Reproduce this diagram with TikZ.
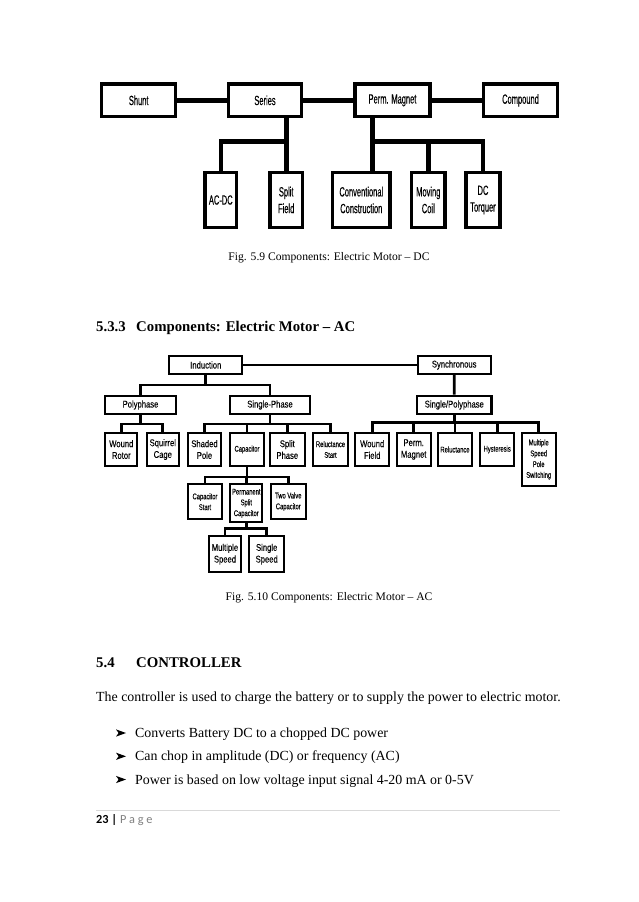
\documentclass[tikz,border=0pt]{standalone}
\usepackage{fontspec}
\setmainfont{Liberation Serif}
\newfontfamily\dcf[FakeStretch=0.56,FakeBold=0.2]{Liberation Sans}
\newfontfamily\acf[FakeStretch=0.78,FakeBold=0.1]{Liberation Sans}
\newfontfamily\acs[FakeStretch=0.7,FakeBold=0.1]{Liberation Sans}
\newfontfamily\calf{Carlito}
\usetikzlibrary{backgrounds}
\definecolor{sepgray}{RGB}{217,217,217}
\definecolor{pagegray}{RGB}{127,127,127}
\begin{document}
\begin{tikzpicture}[x=1pt,y=-1pt,
  dcbox/.style={draw, line width=3.3pt, fill=white, inner sep=0pt, align=center,
    minimum height=#1, font=\dcf\fontsize{13.4}{16.7}\selectfont},
  acbox/.style={draw, line width=2pt, fill=white, inner sep=0pt, align=center,
    minimum height=#1, font=\acf\fontsize{9.8}{11.7}\selectfont},
  acsmall/.style={font=\acs\fontsize{8.3}{10.8}\selectfont},
  dcline/.style={line width=4.5pt},
  acline/.style={line width=2.8pt},
  txt/.style={inner sep=0pt, anchor=base west},
  body/.style={txt, font=\fontsize{13.9}{16}\selectfont},
  capt/.style={inner sep=0pt, anchor=base, font=\fontsize{11.6}{14}\selectfont},
  head/.style={txt, font=\bfseries\fontsize{14.8}{18}\selectfont}
]
\useasboundingbox (0,0) rectangle (638,902);

% ---------------- DC diagram ----------------
\node[dcbox=32.7pt, minimum width=74pt]   (shunt)    at (138.7,100.3) {Shunt};
\node[dcbox=32.7pt, minimum width=73.4pt] (series)   at (265,100.3)   {Series};
\node[dcbox=32.7pt, minimum width=75.1pt] (perm)     at (392.5,100.3) {Perm. Magnet};
\node[dcbox=32.7pt, minimum width=74.3pt] (compound) at (520.5,100.3) {Compound};
\node[dcbox=54.7pt, minimum width=31.7pt] (acdc)     at (220.8,200)   {AC-DC};
\node[dcbox=54.7pt, minimum width=32.4pt] (split)    at (286.2,200)   {Split\\Field};
\node[dcbox=54.7pt, minimum width=57.4pt] (conv)     at (361.3,200)   {Conventional\\Construction};
\node[dcbox=54.7pt, minimum width=33.4pt] (moving)   at (428.3,200)   {Moving\\Coil};
\node[dcbox=54.7pt, minimum width=34.1pt] (torquer)  at (483,200)     {DC\\Torquer};
\coordinate (sj) at (286.7,141.7);
\coordinate (pj) at (372.7,141.7);

\begin{scope}[on background layer]
\draw[dcline] (shunt.east) -- (series.west);
\draw[dcline] (series.east) -- (perm.west);
\draw[dcline] (perm.east) -- (compound.west);
\draw[dcline] (series.south -| sj) -- (sj) -| (acdc.north);
\draw[dcline] (sj) -- (sj |- split.north);
\draw[dcline] (perm.south -| pj) -- (conv.north -| pj);
\draw[dcline] (pj) -| (torquer.north);
\draw[dcline] (moving.north) -- (moving.north |- pj);
\end{scope}

\node[capt] (cap1) at (329,260) {Fig. 5.9 Components: Electric Motor – DC};

% ---------------- headings ----------------
\node[head] (h1n) at (96,331) {5.3.3};
\node[head] (h1t) at (136,331) {Components: Electric Motor – AC};

% ---------------- AC diagram ----------------
\node[acbox=18pt, minimum width=73pt]   (ind)    at (205.8,365) {Induction};
\node[acbox=18pt, minimum width=73pt]   (sync)   at (454.2,365) {Synchronous};
\node[acbox=18pt, minimum width=70.4pt] (poly)   at (140.5,405) {Polyphase};
\node[acbox=18pt, minimum width=80pt]   (single) at (270,405)   {Single-Phase};
\node[acbox=18pt, minimum width=74.7pt, line width=2.6pt] (sp) at (454.3,405) {Single/Polyphase};

\node[acbox=33.6pt, minimum width=32pt]   (wr)  at (121.3,449.5) {Wound\\Rotor};
\node[acbox=33.6pt, minimum width=32.3pt] (sc)  at (162.8,449.5) {Squirrel\\Cage};
\node[acbox=33.6pt, minimum width=33.6pt] (shp) at (204.5,449.5) {Shaded\\Pole};
\node[acbox=33.6pt, minimum width=34pt, acsmall] (cap) at (247,449.5) {Capacitor};
\node[acbox=33.6pt, minimum width=34.7pt] (sph) at (287.3,449.5) {Split\\Phase};
\node[acbox=33.6pt, minimum width=35.6pt, acsmall] (rs) at (330.5,449.5) {Reluctance\\Start};
\node[acbox=33.6pt, minimum width=33.7pt] (wf)  at (372.2,449.5) {Wound\\Field};
\node[acbox=33.6pt, minimum width=34pt]   (pm)  at (413.7,449.5) {Perm.\\Magnet};
\node[acbox=33.6pt, minimum width=33.4pt, acsmall] (rel) at (455,449.5) {Reluctance};
\node[acbox=33.6pt, minimum width=33.7pt, acsmall] (hys) at (497.2,449.5) {Hysteresis};
\node[acbox=53.6pt, minimum width=34pt, acsmall] (msp) at (538.7,459.5) {Multiple\\Speed\\Pole\\Switching};

\node[acbox=34.7pt, minimum width=34.6pt, acsmall] (cs)  at (205,501.7)   {Capacitor\\Start};
\node[acbox=38pt,   minimum width=32pt,   acsmall] (psc) at (246.3,503.3) {Permanent\\Split\\Capacitor};
\node[acbox=34.7pt, minimum width=34.7pt, acsmall] (tv)  at (288.3,501.7) {Two Valve\\Capacitor};

\node[acbox=36.3pt, minimum width=31.4pt] (ms) at (225,554.2)   {Multiple\\Speed};
\node[acbox=36.3pt, minimum width=34.7pt] (ss) at (266.7,554.2) {Single\\Speed};

\coordinate (jind)    at (205.8,385);
\coordinate (jpoly)   at (140.5,424);
\coordinate (jsingle) at (270,424);
\coordinate (jsp)     at (454.3,422.7);
\coordinate (jcap)    at (247,477);
\coordinate (jpsc)    at (246.3,528.3);

\begin{scope}[on background layer]
\draw[acline] (ind.east) -- (sync.west);
\draw[acline] (sync.south) -- (sp.north);
\draw[acline] (ind.south) -- (jind);
\draw[acline] (poly.north) |- (jind) -| (single.north);
\draw[acline] (poly.south) -- (jpoly);
\draw[acline] (wr.north) |- (jpoly) -| (sc.north);
\draw[acline] (single.south) -- (jsingle);
\draw[acline] (shp.north) |- (jsingle) -| (rs.north);
\draw[acline] (cap.north) -- (cap.north |- jsingle);
\draw[acline] (sph.north) -- (sph.north |- jsingle);
\draw[acline] (sp.south) -- (jsp);
\draw[acline] (wf.north) |- (jsp) -| (msp.north);
\draw[acline] (pm.north) -- (pm.north |- jsp);
\draw[acline] (rel.north) -- (rel.north |- jsp);
\draw[acline] (hys.north) -- (hys.north |- jsp);
\draw[acline] (cap.south) -- (jcap);
\draw[acline] (cs.north) |- (jcap) -| (tv.north);
\draw[acline] (psc.north) -- (psc.north |- jcap);
\draw[acline] (psc.south) -- (jpsc);
\draw[acline] (ms.north) |- (jpsc) -| (ss.north);
\end{scope}

\node[capt] (cap2) at (329,600) {Fig. 5.10 Components: Electric Motor – AC};

% ---------------- text ----------------
\node[head] (h2n) at (96,667) {5.4};
\node[head] (h2t) at (136,667) {CONTROLLER};
\node[body] (para) at (96,701) {The controller is used to charge the battery or to supply the power to electric motor.};

% bullet arrowheads (drawn glyphs)
\coordinate (b1) at (116,733);
\coordinate (b2) at (116,756.3);
\coordinate (b3) at (116,779.5);
\foreach \b in {b1,b2,b3}{
  \fill (\b) ++(0,-3.6) -- ++(10,3.6) -- ++(-10,3.6) -- ++(2.6,-3.6) -- cycle;
}
\node[body] (t1) at (135,737.5) {Converts Battery DC to a chopped DC power};
\node[body] (t2) at (135,760.8) {Can chop in amplitude (DC) or frequency (AC)};
\node[body] (t3) at (135,784) {Power is based on low voltage input signal 4-20 mA or 0-5V};

\coordinate (sepL) at (96,810.5);
\coordinate (sepR) at (560,810.5);
\draw[sepgray, line width=0.8pt] (sepL) -- (sepR);
\node[txt, font=\calf\fontsize{12.3}{14}\selectfont] (foot) at (96,823)
  {\textbf{23 |} \textcolor{pagegray}{P a g e}};
\end{tikzpicture}
\end{document}
